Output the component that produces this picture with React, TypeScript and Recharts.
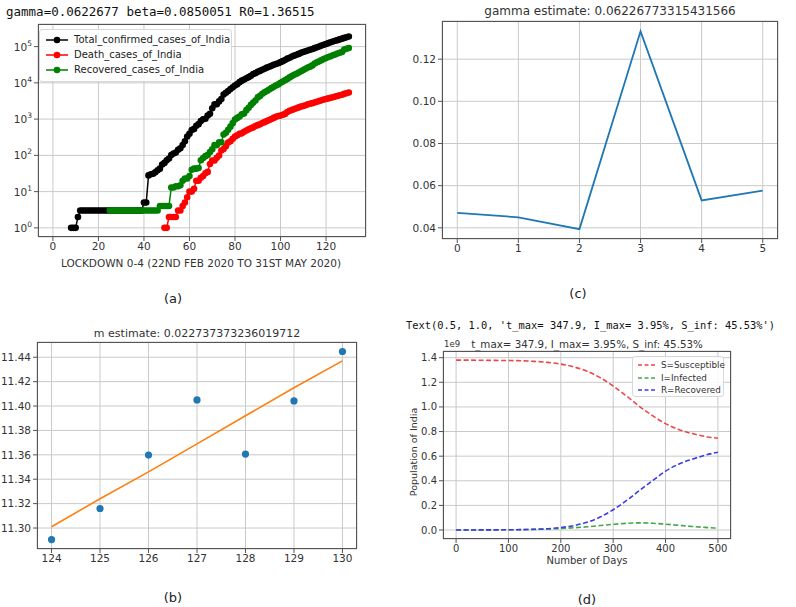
import React from 'react';
import { LineChart, Line, XAxis, YAxis, CartesianGrid, ComposedChart, Scatter } from 'recharts';

const SANS = '"DejaVu Sans", sans-serif';
const MONO = '"DejaVu Sans Mono", monospace';
const TICK_COLOR = '#333';
const GRID = '#c9c9c9';
const SPINE = '#555';

// ---------- Panel (a): cumulative cases of India (day 0 .. 130) ----------
const confirmedCases = [
  0, 0, 0, 0, 0, 0, 0, 0, 1, 1, 1, 2, 3,
  3, 3, 3, 3, 3, 3, 3, 3, 3, 3, 3, 3, 3, 3, 3, 3, 3, 3, 3, 3, 3, 3, 3, 3, 3, 3, 3,
  5, 5, 28, 30, 31, 34, 39, 43, 56, 62,
  73, 82, 102, 113, 119, 142, 156, 194, 244, 330,
  396, 499, 536, 657, 727, 887, 987, 1024, 1251, 1397,
  1998, 2543, 2567, 3082, 3588, 4778, 5311, 5916, 6725, 7598,
  8446, 9205, 10453, 11487, 12322, 13430, 14352, 15722, 17615, 18539,
  20080, 21370, 23077, 24530, 26283, 27890, 29451, 31324, 33062, 34863,
  37257, 39699, 42505, 46437, 49400, 52987, 56351, 59695, 62808, 67161,
  70768, 74292, 78055, 81997, 85784, 90648, 95698, 100328, 106475, 112028,
  118226, 124794, 131423, 138536, 144950, 150793, 158086, 165386, 173491, 181827,
  190609,
];
const deathCases = [
  0, 0, 0, 0, 0, 0, 0, 0, 0, 0, 0, 0, 0, 0, 0, 0, 0, 0, 0, 0, 0, 0, 0, 0, 0,
  0, 0, 0, 0, 0, 0, 0, 0, 0, 0, 0, 0, 0, 0, 0, 0, 0, 0, 0, 0, 0, 0, 0, 0,
  1, 1, 2, 2, 2, 2, 3, 3, 4, 5,
  7, 10, 10, 12, 20, 20, 24, 27, 32, 35,
  58, 72, 72, 86, 99, 136, 150, 178, 226, 246,
  288, 331, 358, 393, 405, 448, 486, 521, 559, 592,
  645, 681, 721, 780, 825, 881, 939, 1008, 1079, 1154,
  1223, 1251, 1323, 1391, 1566, 1693, 1785, 1889, 1985, 2101,
  2212, 2294, 2415, 2551, 2649, 2753, 2871, 3025, 3156, 3302,
  3449, 3584, 3726, 3868, 4024, 4172, 4344, 4534, 4711, 4980,
  5185, 5408,
];
const recoveredCases = [
  0, 0, 0, 0, 0, 0, 0, 0, 0, 0, 0, 0, 0, 0, 0, 0, 0, 0, 0, 0, 0, 0, 0, 0, 0,
  3, 3, 3, 3, 3, 3, 3, 3, 3, 3, 3, 3, 3, 3, 3, 3, 3, 3, 3, 3, 3, 3,
  4, 4, 4, 4, 4,
  13, 13, 14, 14, 15, 20, 23, 23, 27, 40,
  43, 43, 45, 73, 84, 95, 102, 123, 148, 191,
  192, 229, 229, 375, 421, 506, 620, 774, 969, 1080,
  1181, 1359, 1432, 1768, 2041, 2463, 2854, 3273, 3975, 4370,
  5012, 5498, 5939, 6523, 7137, 7747, 8437, 9068, 10007, 10819,
  11775, 12847, 14142, 15331, 16776, 17887, 19301, 20969, 22549, 24420,
  26400, 27969, 30258, 34224, 36795, 39233, 42309, 45422, 48553, 51824,
  54385, 57692, 60706, 64277, 67749, 70920, 82627, 86936, 91852,
];
const lockdownTicks = [0, 20, 40, 60, 80, 100, 120];
const logTicks = [1, 10, 100, 1000, 10000, 100000];
const seriesA = [
  { key: 'confirmed', name: 'Total_confirmed_cases_of_India', color: '#000000' },
  { key: 'death', name: 'Death_cases_of_India', color: '#ff0000' },
  { key: 'recovered', name: 'Recovered_cases_of_India', color: '#008000' },
];

// ---------- Panel (b): m estimate ----------
const mDays = [124, 125, 126, 127, 128, 129, 130];
const mLogValues = [11.2905, 11.316, 11.3598, 11.405, 11.3606, 11.4042, 11.4447];
const mFitValues = [11.301, 11.324, 11.346, 11.369, 11.392, 11.415, 11.437];
const mTicksY = [11.3, 11.32, 11.34, 11.36, 11.38, 11.4, 11.42, 11.44];

// ---------- Panel (c): gamma estimate ----------
const gammaIndex = [0, 1, 2, 3, 4, 5];
const gammaValues = [0.0471, 0.0450, 0.0394, 0.1332, 0.0530, 0.0576];
const gammaTicksY = [0.04, 0.06, 0.08, 0.1, 0.12];

// ---------- Panel (d): SIR model (values in units of 1e9) ----------
const sirDays = [0, 25, 50, 75, 100, 125, 150, 175, 200, 225, 250, 275, 300, 325, 350, 375, 400, 425, 450, 475, 500];
const susceptible = [1.38, 1.38, 1.379, 1.378, 1.377, 1.375, 1.37, 1.362, 1.348, 1.325, 1.29, 1.238, 1.17, 1.09, 1.005, 0.93, 0.864, 0.817, 0.784, 0.761, 0.745];
const infected = [0.0005, 0.0007, 0.001, 0.0015, 0.002, 0.003, 0.005, 0.008, 0.012, 0.018, 0.026, 0.036, 0.046, 0.054, 0.058, 0.055, 0.047, 0.038, 0.029, 0.021, 0.014];
const recovered = [0.0, 0.0003, 0.0007, 0.0012, 0.002, 0.003, 0.006, 0.01, 0.02, 0.036, 0.063, 0.105, 0.165, 0.238, 0.32, 0.4, 0.478, 0.535, 0.574, 0.607, 0.632];
const sirTicksX = [0, 100, 200, 300, 400, 500];
const sirTicksY = [0, 0.2, 0.4, 0.6, 0.8, 1.0, 1.2, 1.4];
const seriesD = [
  { key: 'S', name: 'S=Susceptible', color: '#f04545' },
  { key: 'I', name: 'I=Infected', color: '#45a845' },
  { key: 'R', name: 'R=Recovered', color: '#3b3be6' },
];

// ---------- tables ----------
const tableA = confirmedCases.map((c, i) => ({
  day: i,
  confirmed: c > 0 ? c : null,
  death: deathCases[i] > 0 ? deathCases[i] : null,
  recovered: recoveredCases[i] > 0 ? recoveredCases[i] : null,
}));
const tableB = mDays.map((d, i) => ({ day: d, value: mLogValues[i], fit: mFitValues[i] }));
const tableC = gammaIndex.map((d, i) => ({ idx: d, gamma: gammaValues[i] }));
const tableD = sirDays.map((d, i) => ({ day: d, S: susceptible[i], I: infected[i], R: recovered[i] }));

const tickStyle = { fontSize: 10.5, fill: TICK_COLOR, fontFamily: SANS };

const Txt = ({ x, y, size, font = SANS, anchor = 'middle', color = '#222', rotate = 0, children }: any) => (
  <div
    style={{
      position: 'absolute',
      left: x,
      top: y,
      transform: `translate(${anchor === 'middle' ? '-50%' : '0'}, -50%) rotate(${rotate}deg)`,
      fontSize: size,
      fontFamily: font,
      color,
      whiteSpace: 'nowrap',
      lineHeight: 1,
    }}
  >
    {children}
  </div>
);

const Frame = ({ l, t, r, b }: any) => (
  <div
    style={{
      position: 'absolute',
      left: l,
      top: t,
      width: r - l,
      height: b - t,
      border: `1px solid ${SPINE}`,
      boxSizing: 'border-box',
      pointerEvents: 'none',
    }}
  />
);

const LogTick = (props: any) => {
  const { x, y, payload } = props;
  const exp = Math.round(Math.log10(payload.value));
  return (
    <text x={x} y={y} textAnchor="end" dominantBaseline="central" fontSize={10.5} fill={TICK_COLOR} fontFamily={SANS}>
      10
      <tspan dy={-4} fontSize={7.5}>{exp}</tspan>
    </text>
  );
};

export default function App() {
  return (
    <div style={{ position: 'absolute', left: 0, top: 0, width: 796, height: 607, background: '#fff', overflow: 'hidden' }}>
      {/* ---------------- Panel (a) ---------------- */}
      <Txt x={6} y={12} size={12.5} font={MONO} anchor="start" color="#111">
        gamma=0.0622677 beta=0.0850051 R0=1.36515
      </Txt>
      <div style={{ position: 'absolute', left: 0, top: 18 }}>
        <LineChart width={372} height={249} data={tableA} margin={{ top: 6, right: 6, left: 0, bottom: 0 }}>
          <CartesianGrid stroke={GRID} strokeWidth={1} />
          <XAxis
            dataKey="day"
            type="number"
            domain={[-6.55, 137.55]}
            allowDataOverflow
            ticks={lockdownTicks}
            tick={tickStyle}
            tickSize={4}
            tickLine={{ stroke: SPINE }}
            axisLine={false}
            height={30}
          />
          <YAxis
            scale="log"
            domain={[0.56, 420000]}
            allowDataOverflow
            ticks={logTicks}
            tick={<LogTick />}
            tickSize={4}
            tickLine={{ stroke: SPINE }}
            axisLine={false}
            width={38}
          />
          {seriesA.map((s) => (
            <Line
              key={s.key}
              dataKey={s.key}
              name={s.name}
              stroke={s.color}
              strokeWidth={1.5}
              dot={{ r: 3.3, fill: s.color, stroke: s.color, strokeWidth: 0 }}
              activeDot={false}
              isAnimationActive={false}
              type="linear"
            />
          ))}
        </LineChart>
      </div>
      <Frame l={38} t={24} r={366} b={237} />
      <div
        style={{
          position: 'absolute', left: 39, top: 29, width: 193, height: 53,
          border: '1px solid #d8d8d8', borderRadius: 3, background: 'rgba(255,255,255,0.85)', boxSizing: 'border-box',
        }}
      >
        {seriesA.map((s, i) => (
          <div key={s.key} style={{ position: 'absolute', left: 0, top: 4 + i * 15, height: 12, width: 190 }}>
            <svg width={30} height={12} style={{ position: 'absolute', left: 5, top: 0 }}>
              <line x1={1} y1={6} x2={23} y2={6} stroke={s.color} strokeWidth={1.5} />
              <circle cx={12} cy={6} r={3.3} fill={s.color} />
            </svg>
            <span style={{ position: 'absolute', left: 34, top: 0, fontSize: 10, fontFamily: SANS, color: '#222', lineHeight: '12px', whiteSpace: 'nowrap' }}>
              {s.name}
            </span>
          </div>
        ))}
      </div>
      <Txt x={201} y={263} size={10.5} color="#333">LOCKDOWN 0-4 (22ND FEB 2020 TO 31ST MAY 2020)</Txt>
      <Txt x={173} y={298} size={13}>(a)</Txt>

      {/* ---------------- Panel (c) ---------------- */}
      <Txt x={610} y={11} size={12} color="#333">gamma estimate: 0.06226773315431566</Txt>
      <div style={{ position: 'absolute', left: 400, top: 15 }}>
        <LineChart width={384} height={254} data={tableC} margin={{ top: 6, right: 6, left: 0, bottom: 0 }}>
          <CartesianGrid stroke={GRID} strokeWidth={1} />
          <XAxis
            dataKey="idx"
            type="number"
            domain={[-0.25, 5.25]}
            allowDataOverflow
            ticks={gammaIndex}
            tick={tickStyle}
            tickSize={4}
            tickLine={{ stroke: SPINE }}
            axisLine={false}
            height={30}
          />
          <YAxis
            type="number"
            domain={[0.0347, 0.1381]}
            allowDataOverflow
            ticks={gammaTicksY}
            tickFormatter={(v: number) => v.toFixed(2)}
            tick={tickStyle}
            tickSize={4}
            tickLine={{ stroke: SPINE }}
            axisLine={false}
            width={42}
          />
          <Line dataKey="gamma" stroke="#1f77b4" strokeWidth={1.8} dot={false} activeDot={false} isAnimationActive={false} type="linear" />
        </LineChart>
      </div>
      <Frame l={442} t={21} r={778} b={239} />
      <Txt x={578} y={293} size={13}>(c)</Txt>

      {/* ---------------- Panel (b) ---------------- */}
      <Txt x={197} y={333} size={11} color="#333">m estimate: 0.022737373236019712</Txt>
      <div style={{ position: 'absolute', left: 0, top: 336 }}>
        <ComposedChart width={363} height={243} data={tableB} margin={{ top: 6, right: 6, left: 0, bottom: 0 }}>
          <CartesianGrid stroke={GRID} strokeWidth={1} />
          <XAxis
            dataKey="day"
            type="number"
            domain={[123.7, 130.3]}
            allowDataOverflow
            ticks={mDays}
            tick={tickStyle}
            tickSize={4}
            tickLine={{ stroke: SPINE }}
            axisLine={false}
            height={30}
          />
          <YAxis
            type="number"
            domain={[11.2828, 11.4525]}
            allowDataOverflow
            ticks={mTicksY}
            tickFormatter={(v: number) => v.toFixed(2)}
            tick={tickStyle}
            tickSize={4}
            tickLine={{ stroke: SPINE }}
            axisLine={false}
            width={37}
          />
          <Scatter dataKey="value" fill="#1f77b4" shape={(p: any) => <circle cx={p.cx} cy={p.cy} r={3.6} fill="#1f77b4" />} isAnimationActive={false} />
          <Line dataKey="fit" stroke="#ff7f0e" strokeWidth={1.6} dot={false} activeDot={false} isAnimationActive={false} type="linear" />
        </ComposedChart>
      </div>
      <Frame l={37} t={342} r={357} b={549} />
      <Txt x={173} y={597} size={13}>(b)</Txt>

      {/* ---------------- Panel (d) ---------------- */}
      <Txt x={406} y={325} size={10.4} font={MONO} anchor="start" color="#111">
        Text(0.5, 1.0, 't_max= 347.9, I_max= 3.95%, S_inf: 45.53%')
      </Txt>
      <Txt x={587} y={344} size={10.3} color="#333">t_max= 347.9, I_max= 3.95%, S_inf: 45.53%</Txt>
      <Txt x={444} y={344} size={8.5} anchor="start" color="#333">1e9</Txt>
      <div style={{ position: 'absolute', left: 400, top: 345 }}>
        <LineChart width={337} height={224} data={tableD} margin={{ top: 6, right: 6, left: 0, bottom: 0 }}>
          <CartesianGrid stroke={GRID} strokeWidth={1} />
          <XAxis
            dataKey="day"
            type="number"
            domain={[-25, 525]}
            allowDataOverflow
            ticks={sirTicksX}
            tick={{ ...tickStyle, fontSize: 10 }}
            tickSize={4}
            tickLine={{ stroke: SPINE }}
            axisLine={false}
            height={30}
          />
          <YAxis
            type="number"
            domain={[-0.0731, 1.4544]}
            allowDataOverflow
            ticks={sirTicksY}
            tickFormatter={(v: number) => v.toFixed(1)}
            tick={{ ...tickStyle, fontSize: 10 }}
            tickSize={4}
            tickLine={{ stroke: SPINE }}
            axisLine={false}
            width={43}
          />
          {seriesD.map((s) => (
            <Line
              key={s.key}
              dataKey={s.key}
              name={s.name}
              stroke={s.color}
              strokeWidth={1.6}
              strokeDasharray="5 2.5"
              dot={false}
              activeDot={false}
              isAnimationActive={false}
              type="monotone"
            />
          ))}
        </LineChart>
      </div>
      <Frame l={443} t={351} r={731} b={539} />
      <div
        style={{
          position: 'absolute', left: 632, top: 356, width: 92, height: 41,
          border: '1px solid #d8d8d8', borderRadius: 3, background: 'rgba(255,255,255,0.85)', boxSizing: 'border-box',
        }}
      >
        {seriesD.map((s, i) => (
          <div key={s.key} style={{ position: 'absolute', left: 0, top: 2 + i * 12.6, height: 12, width: 90 }}>
            <svg width={24} height={12} style={{ position: 'absolute', left: 4, top: 0 }}>
              <line x1={1} y1={6} x2={20} y2={6} stroke={s.color} strokeWidth={1.6} strokeDasharray="4 2.5" />
            </svg>
            <span style={{ position: 'absolute', left: 28, top: 0, fontSize: 8.8, fontFamily: SANS, color: '#333', lineHeight: '12px', whiteSpace: 'nowrap' }}>
              {s.name}
            </span>
          </div>
        ))}
      </div>
      <Txt x={414} y={452} size={9.5} rotate={-90} color="#333">Population of India</Txt>
      <Txt x={587} y={561} size={10} color="#333">Number of Days</Txt>
      <Txt x={587} y={599} size={13}>(d)</Txt>
    </div>
  );
}
